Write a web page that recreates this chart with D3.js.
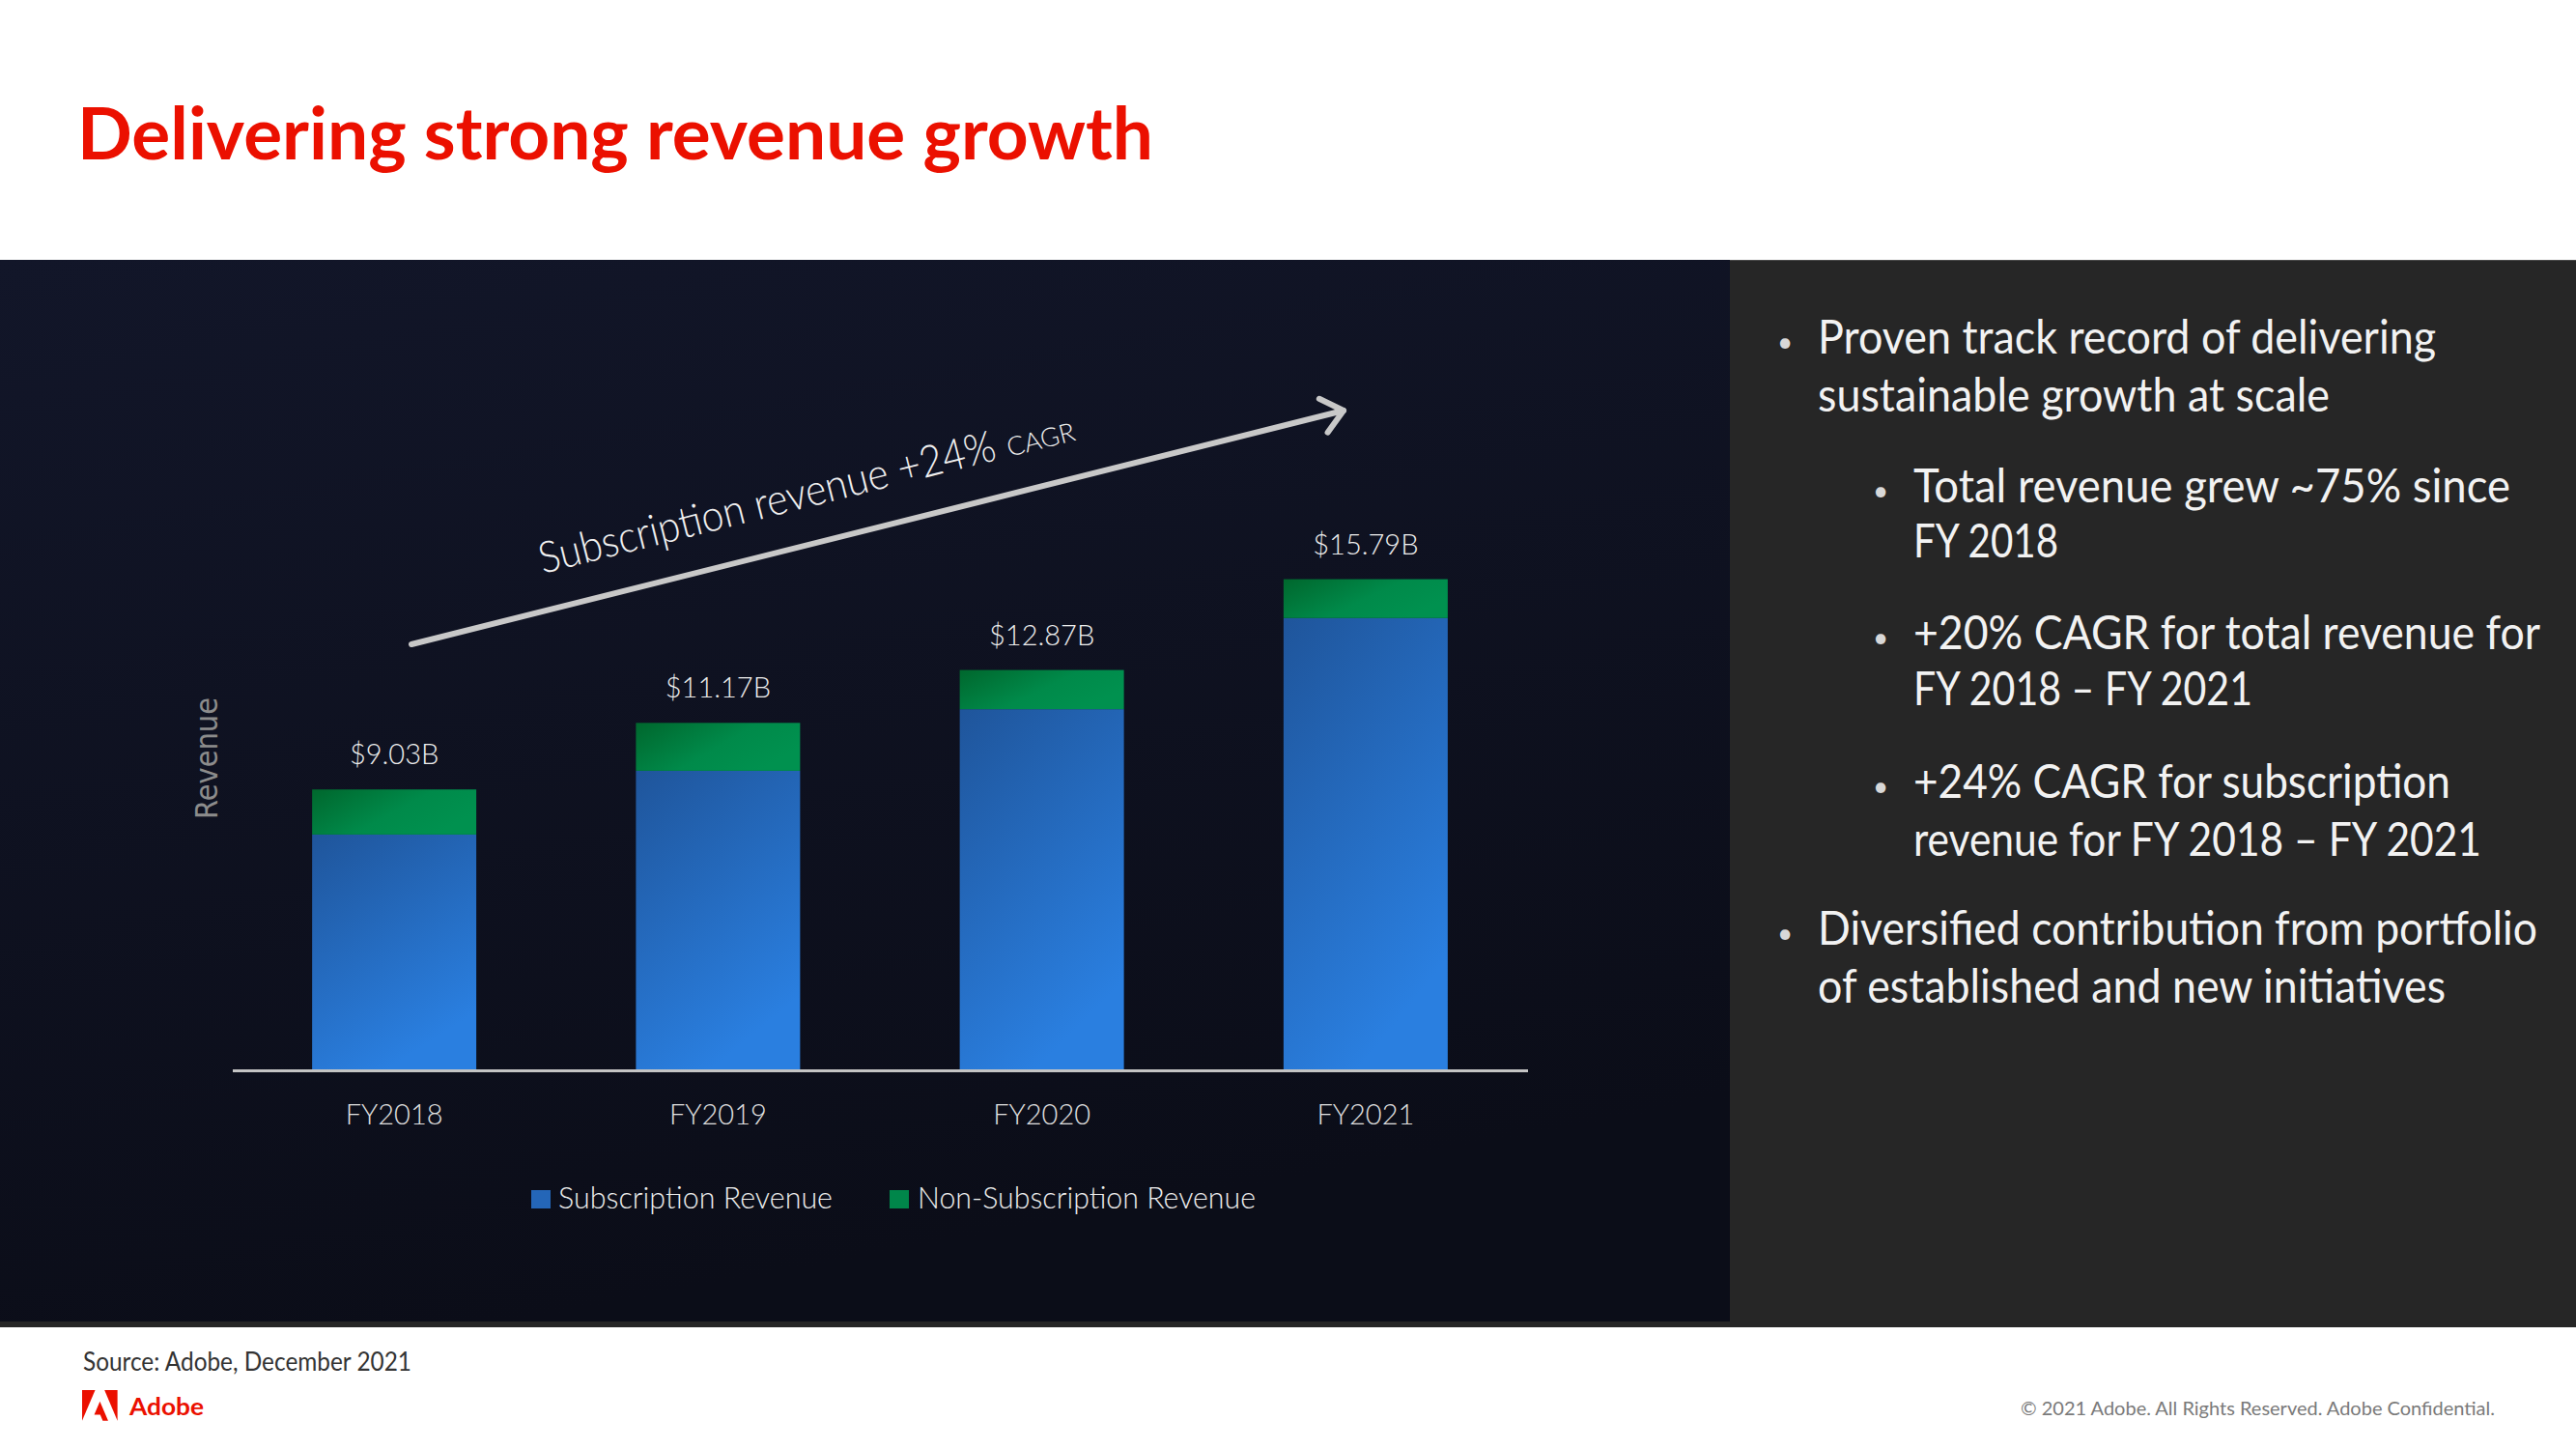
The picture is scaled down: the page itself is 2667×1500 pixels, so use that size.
<!DOCTYPE html>
<html><head><meta charset="utf-8">
<script src="https://cdn.jsdelivr.net/npm/d3@7"></script>
<style>html,body{margin:0;padding:0;background:#fff;overflow:hidden;} svg{display:block;}</style>
</head><body>
<svg id="chart" width="2667" height="1500"></svg>
<script>
// ---------- data ----------
const categories = ["FY2018", "FY2019", "FY2020", "FY2021"];
const subscription = [7.58, 9.63, 11.61, 14.54];
const nonSubscription = [1.45, 1.54, 1.26, 1.25];
const totalLabels = ["$9.03B", "$11.17B", "$12.87B", "$15.79B"];
const seriesNames = ["Subscription Revenue", "Non-Subscription Revenue"];
const seriesKeys = ["sub", "non"];
const titleText = "Delivering strong revenue growth";
const axisTitle = "Revenue";
const annotationMain = "Subscription revenue +24%";
const annotationSmall = "CAGR";
const bulletLines = [
  {level: 0, text: "Proven track record of delivering", cont: false, w: 640},
  {level: 0, text: "sustainable growth at scale", cont: true, w: 530},
  {level: 1, text: "Total revenue grew ~75% since", cont: false, w: 618},
  {level: 1, text: "FY 2018", cont: true, w: 150},
  {level: 1, text: "+20% CAGR for total revenue for", cont: false, w: 649},
  {level: 1, text: "FY 2018 – FY 2021", cont: true, w: 351},
  {level: 1, text: "+24% CAGR for subscription", cont: false, w: 556},
  {level: 1, text: "revenue for FY 2018 – FY 2021", cont: true, w: 588},
  {level: 0, text: "Diversified contribution from portfolio", cont: false, w: 745},
  {level: 0, text: "of established and new initiatives", cont: true, w: 650}
];
const bulletBaselines = [366, 426, 520, 577, 672, 730, 826, 886, 978, 1038];
const sourceText = "Source: Adobe, December 2021";
const copyrightText = "© 2021 Adobe. All Rights Reserved. Adobe Confidential.";

// ---------- layout ----------
const W = 2667, H = 1500;
const FONT = "Lato, 'Open Sans', sans-serif";
const svg = d3.select("#chart");
const defs = svg.append("defs");

// backgrounds
svg.append("rect").attr("x", 0).attr("y", 0).attr("width", W).attr("height", H).attr("fill", "#ffffff");
svg.append("rect").attr("x", 0).attr("y", 269).attr("width", W).attr("height", 1374 - 269).attr("fill", "#262626");
svg.append("line").attr("x1", 1791).attr("x2", W).attr("y1", 269.5).attr("y2", 269.5).attr("stroke", "#4a4a4a").attr("stroke-width", 1);
const bgGrad = defs.append("linearGradient").attr("id", "bgGrad").attr("x1", 0).attr("y1", 0).attr("x2", 0.3).attr("y2", 1);
bgGrad.append("stop").attr("offset", 0).attr("stop-color", "#121629");
bgGrad.append("stop").attr("offset", 1).attr("stop-color", "#0b0d18");
svg.append("rect").attr("x", 0).attr("y", 269).attr("width", 1791).attr("height", 1368 - 269).attr("fill", "url(#bgGrad)");

// gradients for bars
const gSub = defs.append("linearGradient").attr("id", "gradSub").attr("x1", 0).attr("y1", 0).attr("x2", 0.45).attr("y2", 1);
gSub.append("stop").attr("offset", 0).attr("stop-color", "#1f559b");
gSub.append("stop").attr("offset", 1).attr("stop-color", "#2a7fe0");
const gNon = defs.append("linearGradient").attr("id", "gradNon").attr("x1", 0).attr("y1", 0).attr("x2", 1).attr("y2", 0.5);
gNon.append("stop").attr("offset", 0).attr("stop-color", "#00672d");
gNon.append("stop").attr("offset", 0.6).attr("stop-color", "#008a4a");
gNon.append("stop").attr("offset", 1).attr("stop-color", "#00914f");
const fills = {sub: "url(#gradSub)", non: "url(#gradNon)"};
const legendFills = {sub: "#2466b8", non: "#00864a"};

// title
svg.append("text").attr("x", 80).attr("y", 165)
  .attr("font-family", FONT).attr("font-weight", 700).attr("font-size", 74)
  .attr("fill", "#eb1000").attr("textLength", 1114).attr("lengthAdjust", "spacingAndGlyphs")
  .text(titleText);

// scales
const baseY = 1108;
const x = d3.scaleBand().domain(categories).range([240.5, 1581.5]).paddingInner(0.493).paddingOuter(0.2465);
const y = d3.scaleLinear().domain([0, 16]).range([baseY, baseY - 16 * 32.2]);

const table = categories.map((c, i) => ({cat: c, sub: subscription[i], non: nonSubscription[i], label: totalLabels[i]}));
const stacked = d3.stack().keys(seriesKeys)(table);

const gBars = svg.append("g");
stacked.forEach(layer => {
  gBars.selectAll(null).data(layer).enter().append("rect")
    .attr("x", d => x(d.data.cat))
    .attr("y", d => y(d[1]))
    .attr("width", x.bandwidth())
    .attr("height", d => y(d[0]) - y(d[1]))
    .attr("fill", fills[layer.key]);
});

// total labels
svg.append("g").selectAll("text").data(table).enter().append("text")
  .attr("x", d => x(d.cat) + x.bandwidth() / 2)
  .attr("y", d => y(d.sub + d.non) - 26)
  .attr("text-anchor", "middle")
  .attr("font-family", FONT).attr("font-weight", 300).attr("font-size", 29).attr("fill", "#eeeeee")
  .text(d => d.label);

// x axis
const gx = svg.append("g").attr("transform", `translate(0,${baseY})`)
  .call(d3.axisBottom(x).tickSize(0).tickSizeOuter(0));
gx.select(".domain").attr("stroke", "#c4c4c4").attr("stroke-width", 3);
gx.selectAll(".tick text").attr("y", 56).attr("dy", 0)
  .attr("font-family", FONT).attr("font-weight", 300).attr("font-size", 29).attr("fill", "#e0e0e0");

// y axis title
svg.append("text")
  .attr("transform", "translate(225,785) rotate(-90)")
  .attr("text-anchor", "middle")
  .attr("font-family", "'DejaVu Sans', sans-serif").attr("font-size", 32).attr("fill", "#8c8c8c")
  .attr("textLength", 126).attr("lengthAdjust", "spacingAndGlyphs")
  .text(axisTitle);

// annotation arrow
const aS = [426, 667], aE = [1391, 425];
svg.append("line").attr("x1", aS[0]).attr("y1", aS[1]).attr("x2", aE[0]).attr("y2", aE[1])
  .attr("stroke", "#c8c8c8").attr("stroke-width", 6).attr("stroke-linecap", "round");
const ang = Math.atan2(aS[1] - aE[1], aS[0] - aE[0]);
const armLen = 28, spread = 40 * Math.PI / 180;
const p1 = [aE[0] + armLen * Math.cos(ang - spread), aE[1] + armLen * Math.sin(ang - spread)];
const p2 = [aE[0] + armLen * Math.cos(ang + spread), aE[1] + armLen * Math.sin(ang + spread)];
svg.append("path").attr("d", `M${p1[0]},${p1[1]}L${aE[0]},${aE[1]}L${p2[0]},${p2[1]}`)
  .attr("fill", "none").attr("stroke", "#c8c8c8").attr("stroke-width", 6)
  .attr("stroke-linecap", "round").attr("stroke-linejoin", "round");
const rotRad = Math.atan2(aE[1] - aS[1], aE[0] - aS[0]);
const rotDeg = rotRad * 180 / Math.PI;
const annStart = [562, 594], annLen = 486, annGap = 12;
svg.append("text").attr("transform", `translate(${annStart[0]},${annStart[1]}) rotate(${rotDeg})`)
  .attr("font-family", FONT).attr("font-weight", 300).attr("fill", "#f0f0f0")
  .attr("font-size", 45).attr("textLength", annLen).attr("lengthAdjust", "spacingAndGlyphs")
  .text(annotationMain);
const cx = annStart[0] + (annLen + annGap) * Math.cos(rotRad);
const cy = annStart[1] + (annLen + annGap) * Math.sin(rotRad);
svg.append("text").attr("transform", `translate(${cx},${cy}) rotate(${rotDeg})`)
  .attr("font-family", FONT).attr("font-weight", 300).attr("fill", "#f0f0f0")
  .attr("font-size", 27).text(annotationSmall);

// legend
const legendItems = [
  {key: "sub", name: seriesNames[0], sx: 550, tx: 578, w: 284},
  {key: "non", name: seriesNames[1], sx: 921, tx: 950, w: 350}
];
const gl = svg.append("g");
legendItems.forEach(it => {
  gl.append("rect").attr("x", it.sx).attr("y", 1232).attr("width", 20).attr("height", 19).attr("fill", legendFills[it.key]);
  gl.append("text").attr("x", it.tx).attr("y", 1251)
    .attr("font-family", FONT).attr("font-weight", 300).attr("font-size", 31).attr("fill", "#eeeeee")
    .attr("textLength", it.w).attr("lengthAdjust", "spacingAndGlyphs").text(it.name);
});

// right panel bullets
const gt = svg.append("g").attr("font-family", FONT).attr("fill", "#f2f2f2");
bulletLines.forEach((b, i) => {
  const tx = b.level === 0 ? 1882 : 1981;
  const dx = b.level === 0 ? 1848 : 1947;
  if (!b.cont) {
    gt.append("text").attr("x", dx).attr("y", bulletBaselines[i] - 2).attr("text-anchor", "middle")
      .attr("font-size", 28).attr("fill", "#d8d8d8").text("•");
  }
  gt.append("text").attr("x", tx).attr("y", bulletBaselines[i])
    .attr("font-size", 48).attr("textLength", b.w).attr("lengthAdjust", "spacingAndGlyphs")
    .text(b.text);
});

// footer
svg.append("text").attr("x", 86).attr("y", 1419)
  .attr("font-family", FONT).attr("font-size", 27).attr("fill", "#333333")
  .attr("textLength", 340).attr("lengthAdjust", "spacingAndGlyphs").text(sourceText);
const logo = svg.append("g").attr("transform", "translate(85,1439) scale(1.22)").attr("fill", "#eb1000");
logo.append("polygon").attr("points", "19,0 30,0 30,26");
logo.append("polygon").attr("points", "11.1,0 0,0 0,26");
logo.append("polygon").attr("points", "15.1,9.6 22.1,26 17.5,26 15.4,20.8 10.3,20.8");
svg.append("text").attr("x", 134).attr("y", 1465)
  .attr("font-family", FONT).attr("font-weight", 700).attr("font-size", 25).attr("fill", "#eb1000")
  .attr("textLength", 77).attr("lengthAdjust", "spacingAndGlyphs").text("Adobe");
svg.append("text").attr("x", 2583).attr("y", 1465).attr("text-anchor", "end")
  .attr("font-family", FONT).attr("font-size", 19).attr("fill", "#7a7a7a")
  .attr("textLength", 491).attr("lengthAdjust", "spacingAndGlyphs").text(copyrightText);
</script>
</body></html>
